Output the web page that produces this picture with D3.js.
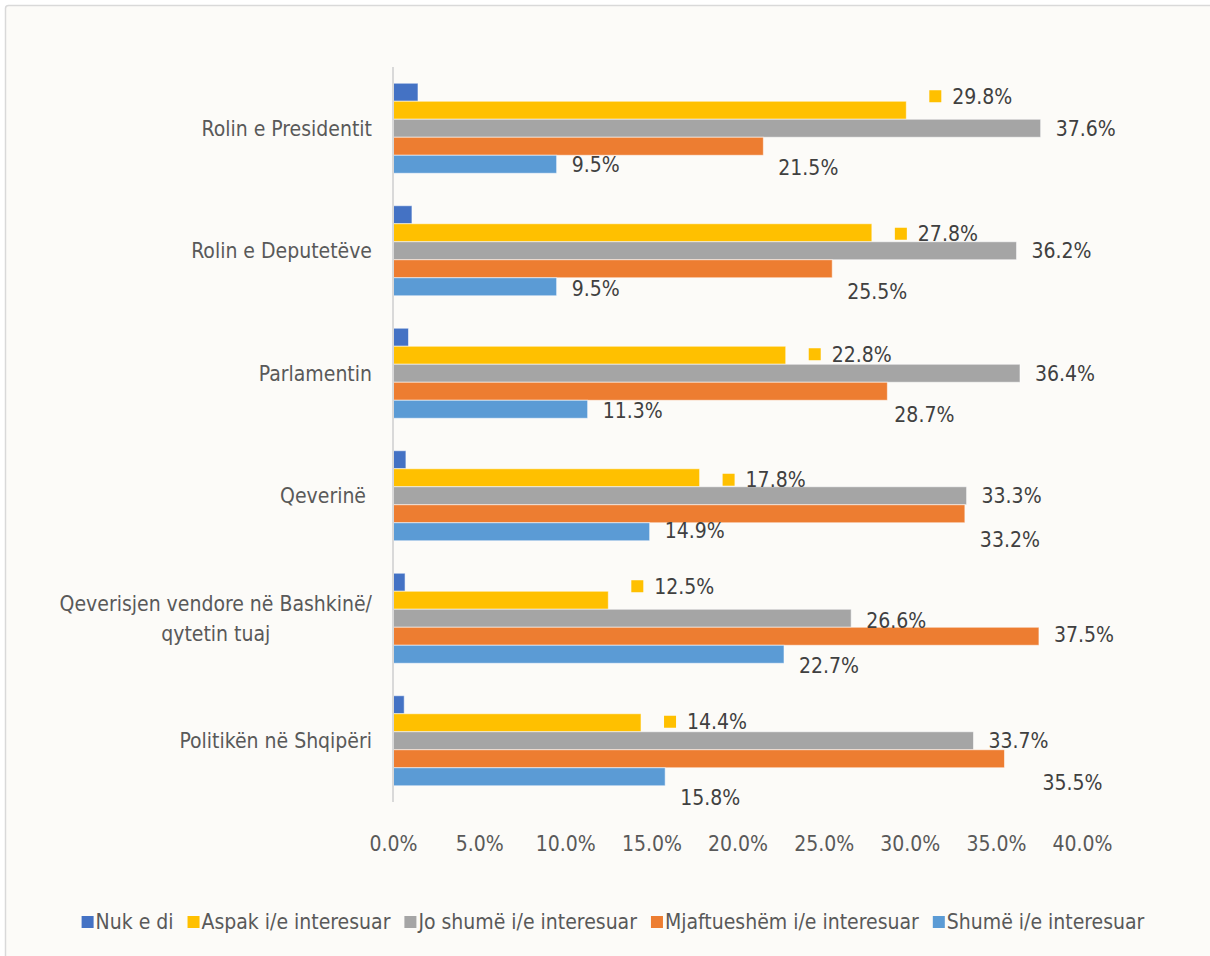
<!DOCTYPE html>
<html>
<head>
<meta charset="utf-8">
<script src="https://cdn.jsdelivr.net/npm/d3@7"></script>
<style>
  body { margin: 0; background: #ffffff; }
  text { font-family: "Liberation Sans Narrow", "DejaVu Sans Condensed", "Lato", sans-serif; }
</style>
</head>
<body>
<div class="chart"></div>
<script>
// chart values
var categories = ["Rolin e Presidentit", "Rolin e Deputetëve", "Parlamentin", "Qeverinë ",
    "Qeverisjen vendore në Bashkinë/\nqytetin tuaj", "Politikën në Shqipëri"];
var seriesNames = ["Nuk e di", "Aspak i/e interesuar", "Jo shumë i/e interesuar",
    "Mjaftueshëm i/e interesuar", "Shumë i/e interesuar"];
var nukEDi = [1.45, 1.1, 0.9, 0.75, 0.7, 0.65];
var aspak = [29.8, 27.8, 22.8, 17.8, 12.5, 14.4];
var joShume = [37.6, 36.2, 36.4, 33.3, 26.6, 33.7];
var mjaftueshem = [21.5, 25.5, 28.7, 33.2, 37.5, 35.5];
var shume = [9.5, 9.5, 11.3, 14.9, 22.7, 15.8];
var xTicks = [0, 5, 10, 15, 20, 25, 30, 35, 40];

var seriesValues = [nukEDi, aspak, joShume, mjaftueshem, shume];
var colors = ["#4472c4", "#ffc000", "#a5a5a5", "#ed7d31", "#5b9bd5"];
var showLabel = [false, true, true, true, true];

// hand-moved data labels, like in the original workbook: [dx, dy] per series and category
var nudges = [
    null,
    [[0, -14], [0, 1], [0, -1], [0, 2], [0, -14], [0, -1]],
    [[0, 0], [0, 0], [0, 0], [0, 0], [0, 2], [0, 0]],
    [[0, 21], [0, 23], [-8, 23], [0, 26], [0, -2], [23, 24]],
    [[0, 0], [0, 2], [0, 1], [0, -1], [0, 11], [0, 21]]
];

var W = 1210, H = 956;
var fs = "21px";
var svg = d3.select(".chart").append("svg")
    .attr("width", W)
    .attr("height", H);

// chart area frame
svg.append("rect")
    .attr("x", 5.5).attr("y", 5.5)
    .attr("width", W + 20).attr("height", H + 20)
    .attr("rx", 3)
    .style("fill", "#fcfbf8")
    .style("stroke", "#d9d9d9")
    .style("stroke-width", 1.5);

var xScale = d3.scaleLinear().domain([0, 40]).range([393, 1082]);
var yScale = d3.scaleBand().domain(d3.range(categories.length))
    .range([67, 802]).paddingInner(0.265).paddingOuter(0.1325);
var ySub = d3.scaleBand().domain(d3.range(seriesNames.length))
    .range([0, yScale.bandwidth()]);

// x axis labels
var xAxis = d3.axisBottom(xScale).tickValues(xTicks).tickSize(0)
    .tickFormat(function (d) { return d.toFixed(1) + "%"; });
var gx = svg.append("g")
    .attr("transform", "translate(0,833)")
    .call(xAxis);
gx.select(".domain").remove();
gx.selectAll("text")
    .style("font-size", fs)
    .style("fill", "#595959")
    .style("font-family", null);

// bars
var groups = svg.selectAll(".grp")
    .data(categories)
    .enter().append("g")
    .attr("class", "grp")
    .attr("transform", function (d, i) { return "translate(0," + yScale(i) + ")"; });

seriesValues.forEach(function (vals, s) {
    groups.append("rect")
        .attr("x", xScale(0))
        .attr("y", ySub(s))
        .attr("width", function (d, i) { return xScale(vals[i]) - xScale(0); })
        .attr("height", ySub.bandwidth())
        .style("fill", colors[s])
        .style("stroke", "#ffffff")
        .style("stroke-opacity", 0.55)
        .style("stroke-width", 1);
});

// vertical category axis line
svg.append("line")
    .attr("x1", 393).attr("x2", 393)
    .attr("y1", yScale.range()[0]).attr("y2", yScale.range()[1])
    .style("stroke", "#d9d9d9")
    .style("stroke-width", 2);

// data labels
seriesValues.forEach(function (vals, s) {
    if (!showLabel[s]) return;
    groups.each(function (d, i) {
        var g = d3.select(this);
        var xEnd = xScale(vals[i]);
        var cy = ySub(s) + ySub.bandwidth() / 2 + nudges[s][i][1];
        var x = xEnd + 15 + nudges[s][i][0];
        if (s === 1) {
            // yellow labels carry the legend key
            g.append("rect")
                .attr("x", xEnd + 23)
                .attr("y", cy - 6)
                .attr("width", 12).attr("height", 12)
                .style("fill", colors[s]);
            x = xEnd + 46;
        }
        g.append("text")
            .attr("x", x)
            .attr("y", cy)
            .attr("dy", "0.35em")
            .style("font-size", fs)
            .style("fill", "#404040")
            .text(vals[i].toFixed(1) + "%");
    });
});

// category labels, centred on their own block and right-aligned to the axis
groups.each(function (d, i) {
    var g = d3.select(this);
    var lines = d.split("\n");
    var t = g.append("text")
        .attr("y", yScale.bandwidth() / 2)
        .style("font-size", fs)
        .style("fill", "#595959")
        .style("white-space", "pre")
        .style("text-anchor", "middle");
    lines.forEach(function (ln, k) {
        t.append("tspan")
            .attr("dy", k === 0 ? (0.35 - (lines.length - 1) * 0.7) + "em" : "1.45em")
            .text(ln);
    });
    var maxW = 0;
    t.selectAll("tspan").each(function () {
        maxW = Math.max(maxW, this.getComputedTextLength());
    });
    t.selectAll("tspan").attr("x", 372 - maxW / 2);
});

// legend
var legend = svg.append("g");
var lx = 0, gap = 14;
seriesNames.forEach(function (name, s) {
    var item = legend.append("g");
    item.append("rect")
        .attr("x", 0).attr("y", -6)
        .attr("width", 12).attr("height", 12)
        .style("fill", colors[s]);
    var txt = item.append("text")
        .attr("x", 14)
        .attr("dy", "0.35em")
        .style("font-size", fs)
        .style("fill", "#595959")
        .text(name);
    var w = 14 + txt.node().getComputedTextLength();
    item.attr("transform", "translate(" + lx + ",0)");
    lx += w + gap;
});
var total = lx - gap;
legend.attr("transform", "translate(" + (613 - total / 2) + ",922)");
</script>
</body>
</html>
